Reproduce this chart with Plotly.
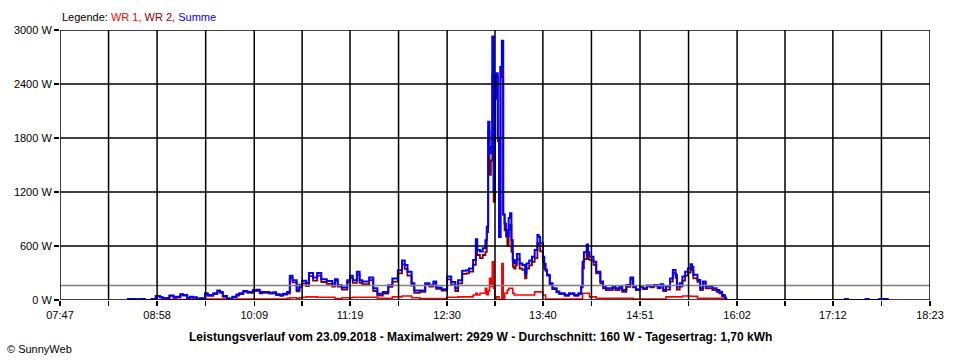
import pandas as pd
import plotly.graph_objects as go

DAY = "2018-09-23 "

times = ["08:36","08:43","08:45","08:49","08:54","08:57","09:00","09:02","09:07","09:10",
         "09:12","09:15","09:17","09:20","09:22","09:24","09:27","09:29","09:31","09:33",
         "09:35","09:39","09:42","09:44","09:46","09:49","09:51","09:53","09:56","09:58",
         "10:01","10:04","10:08","10:11","10:13","10:15","10:18","10:20","10:23","10:25",
         "10:28","10:30","10:33","10:35","10:37","10:40","10:42","10:44","10:47","10:49",
         "10:52","10:55","10:58","11:02","11:06","11:08","11:10","11:13","11:15","11:17",
         "11:19","11:21","11:24","11:26","11:28","11:31","11:33","11:36","11:39","11:41",
         "11:43","11:47","11:50","11:54","11:57","11:59","12:01","12:04","12:06","12:10",
         "12:14","12:17","12:20","12:22","12:26","12:30","12:33","12:36","12:38","12:41",
         "12:44","12:46","12:49","12:51","12:52","12:54","12:56","12:58","12:59","13:00",
         "13:01","13:02","13:03","13:04","13:05","13:06","13:07","13:08","13:09","13:10",
         "13:11","13:12","13:13","13:14","13:15","13:16","13:17","13:18","13:19","13:20",
         "13:21","13:23","13:25","13:27","13:28","13:30","13:32","13:34","13:36","13:37",
         "13:38","13:40","13:41","13:42","13:43","13:45","13:47","13:50","13:52","13:56",
         "13:59","14:03","14:06","14:08","14:09","14:10","14:12","14:13","14:14","14:17",
         "14:19","14:22","14:24","14:26","14:31","14:33","14:36","14:38","14:41","14:44",
         "14:46","14:48","14:51","14:53","14:56","14:59","15:01","15:04","15:06","15:08",
         "15:10","15:13","15:15","15:17","15:18","15:20","15:22","15:24","15:26","15:28",
         "15:29","15:30","15:33","15:35","15:37","15:39","15:42","15:44","15:47","15:49",
         "15:51","15:53","15:54","17:21","17:23","17:36","17:38","17:46","17:52"]

summe = [10,0,10,0,10,45,30,20,50,30,
         35,65,55,20,35,30,10,20,20,75,
         55,75,105,90,45,20,10,35,60,75,
         100,90,110,115,85,90,90,80,85,65,
         55,70,90,270,220,115,170,215,190,300,
         250,300,230,210,180,230,165,140,140,220,
         270,220,315,220,205,205,250,130,70,70,
         90,165,240,330,440,390,315,185,105,105,
         185,165,205,140,120,260,200,130,220,325,
         330,350,445,675,555,540,575,665,815,1980,
         1630,1700,2929,1220,2240,2520,1800,700,2590,2880,
         950,850,780,710,910,965,665,445,405,440,
         510,405,390,295,405,440,480,555,722,700,
         630,480,400,333,280,185,130,95,75,55,
         75,55,75,150,425,530,618,530,480,425,
         315,205,150,130,150,130,150,110,167,250,
         150,120,155,130,160,150,167,140,175,110,
         150,240,333,280,150,185,260,315,350,396,
         370,280,222,130,205,150,150,130,110,93,
         55,25,0,10,0,10,0,10,0]

wr1 = [0,0,0,0,0,0,0,0,5,5,
       5,5,5,5,5,5,5,5,10,10,
       10,10,10,10,10,10,5,5,10,10,
       10,10,10,10,10,10,10,10,10,10,
       10,10,20,25,25,20,25,30,35,35,
       35,30,30,30,30,15,15,25,25,25,
       25,30,30,30,30,30,30,30,20,20,
       20,20,35,35,45,45,45,25,25,15,
       15,15,15,15,15,30,30,30,35,35,
       35,35,55,75,55,75,75,130,60,100,
       240,150,425,130,0,35,35,0,0,405,
       0,75,75,110,130,130,130,75,55,55,
       55,55,55,55,55,55,55,90,90,90,
       90,55,55,10,10,10,10,10,10,10,
       10,10,10,10,75,75,75,75,35,35,
       20,20,20,20,20,20,20,20,20,20,
       10,10,10,10,10,10,10,10,10,10,
       35,35,35,35,35,35,45,45,45,40,
       40,40,20,20,20,20,20,20,20,20,
       15,10,0,0,0,0,0,0,0]

wr2 = [10,0,10,0,10,45,30,20,45,25,
       30,60,50,15,30,25,5,15,10,65,
       45,65,95,80,35,10,5,30,50,65,
       90,80,100,105,75,80,80,70,75,55,
       45,60,70,245,195,95,145,185,155,265,
       215,270,200,180,150,215,150,115,115,195,
       245,190,285,190,175,175,220,100,50,50,
       70,145,205,295,395,345,270,160,80,90,
       170,150,190,125,105,230,170,100,185,290,
       295,315,390,600,500,465,500,535,755,1880,
       1390,1550,2504,1090,2240,2485,1765,700,2590,2475,
       950,775,705,600,780,835,535,370,350,385,
       455,350,335,240,350,385,425,465,632,610,
       540,425,345,323,270,175,120,85,65,45,
       65,45,65,140,350,455,543,455,445,390,
       295,185,130,110,130,110,130,90,147,230,
       140,110,145,120,150,140,157,130,165,100,
       115,205,298,245,115,150,215,270,305,356,
       330,240,202,110,185,130,130,110,90,73,
       40,15,0,10,0,10,0,10,0]

label_times = ["07:47","08:58","10:09","11:19","12:30","13:40","14:51","16:02","17:12","18:23"]
y_ticks = [0, 600, 1200, 1800, 2400, 3000]
y_labels = [f"{v} W" for v in y_ticks]
average_w = 160

title_text = ("Leistungsverlauf vom 23.09.2018 - Maximalwert: 2929 W - "
              "Durchschnitt: 160 W - Tagesertrag: 1,70 kWh")

x = pd.to_datetime([DAY + t for t in times])
lab = pd.to_datetime([DAY + t for t in label_times])
mids = [lab[i] + (lab[i + 1] - lab[i]) / 2 for i in range(len(lab) - 1)]
all_ticks = sorted(list(lab) + mids)
lab_set = set(lab)
tick_text = [t.strftime("%H:%M") if t in lab_set else "" for t in all_ticks]

FONT = "Liberation Sans"
GRID_W = 1.5
fig = go.Figure()
fig.add_trace(go.Scatter(x=x, y=wr1, mode="lines", line=dict(color="#FF0000", width=1.6, shape="hv"), name="WR 1"))
fig.add_trace(go.Scatter(x=x, y=wr2, mode="lines", line=dict(color="#800000", width=1.8, shape="hv"), name="WR 2"))
fig.add_trace(go.Scatter(x=x, y=summe, mode="lines", line=dict(color="#0000FF", width=2, shape="hv"), name="Summe"))

shapes = [dict(type="line", xref="paper", x0=0, x1=1, yref="y", y0=average_w, y1=average_w,
               line=dict(color="#808080", width=GRID_W), layer="above")]
for t in all_ticks:
    shapes.append(dict(type="line", xref="x", x0=t, x1=t, yref="paper", y0=0, y1=1,
                       line=dict(color="black", width=GRID_W), layer="above"))
for v in y_ticks:
    shapes.append(dict(type="line", xref="paper", x0=0, x1=1, yref="y", y0=v, y1=v,
                       line=dict(color="black", width=GRID_W), layer="above"))

legend_html = ('Legende: <span style="color:#FF0000">WR 1,</span> '
               '<span style="color:#800000">WR 2,</span> '
               '<span style="color:#0000FF">Summe</span>')

fig.update_layout(
    width=960, height=360,
    margin=dict(l=60, r=30, t=30, b=60),
    paper_bgcolor="white", plot_bgcolor="white",
    showlegend=False,
    font=dict(family=FONT, size=11, color="black"),
    shapes=shapes,
    annotations=[
        dict(text=legend_html, xref="paper", yref="paper", x=0, y=1.048,
             xanchor="left", yanchor="middle", showarrow=False, font=dict(size=11)),
        dict(text="<b>" + title_text + "</b>", xref="paper", yref="paper", x=0.4828, y=-0.137,
             xanchor="center", yanchor="middle", showarrow=False, font=dict(size=12)),
        dict(text="© SunnyWeb", xref="paper", yref="paper", x=-0.0632, y=-0.181,
             xanchor="left", yanchor="middle", showarrow=False, font=dict(size=11)),
    ],
    xaxis=dict(type="date", range=[lab[0], lab[-1]], tickmode="array",
               tickvals=all_ticks, ticktext=tick_text, showgrid=False, zeroline=False,
               showline=False, ticks="outside", ticklen=5, tickwidth=GRID_W, tickcolor="black",
               tickfont=dict(size=11)),
    yaxis=dict(range=[0, 3000], tickmode="array", tickvals=y_ticks, ticktext=y_labels,
               showgrid=False, zeroline=False, showline=False, ticks="outside", ticklen=5,
               tickwidth=GRID_W, tickcolor="black", tickfont=dict(size=11)),
)

fig.write_html("out.html", config={"displayModeBar": False, "staticPlot": True},
               post_script="document.body.style.margin='0';document.body.style.overflow='hidden';")
